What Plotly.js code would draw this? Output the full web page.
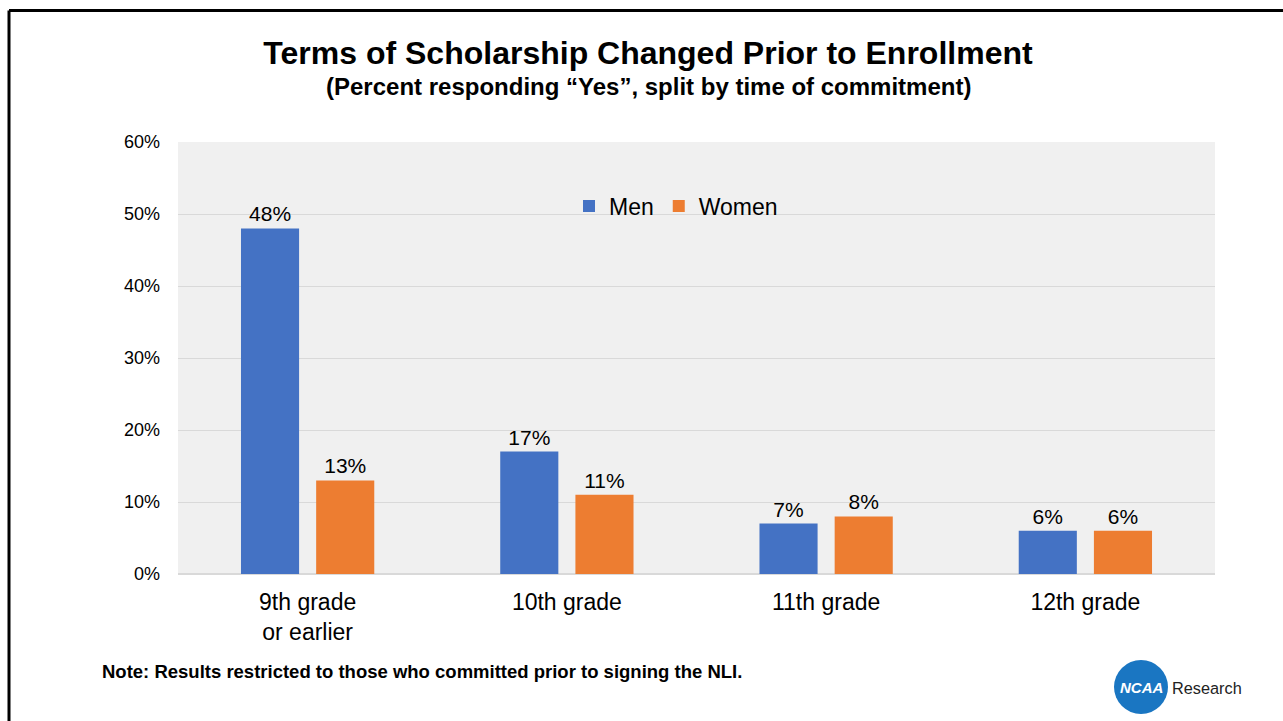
<!DOCTYPE html>
<html>
<head>
<meta charset="utf-8">
<script src="https://cdn.plot.ly/plotly-3.0.1.min.js"></script>
<style>
html,body{margin:0;padding:0;background:#fff;}
#chart{width:1283px;height:721px;}
</style>
</head>
<body>
<div id="chart"></div>
<script>
const categories = ["9th grade<br>or earlier", "10th grade", "11th grade", "12th grade"];
const menValues = [0.48, 0.17, 0.07, 0.06];
const womenValues = [0.13, 0.11, 0.08, 0.06];
const seriesNames = ["Men", "Women"];
const titleText = "<b>Terms of Scholarship Changed Prior to Enrollment</b>";
const subtitleText = "<b>(Percent responding “Yes”, split by time of commitment)</b>";
const noteText = "<b>Note: Results restricted to those who committed prior to signing the NLI.</b>";

const L = 178, R = 1215, T = 142, B = 574;
const W = R - L, H = B - T;
const px = x => (x - L) / W;
const py = y => (B - y) / H;

const font = "Arial, 'Liberation Sans', sans-serif";

const traces = [
  {type: "bar", name: seriesNames[0], x: categories, y: menValues,
   marker: {color: "#4472C4"}, texttemplate: "%{y:.0%}", textposition: "outside",
   textfont: {size: 21, color: "#000", family: font}, cliponaxis: false, hoverinfo: "skip"},
  {type: "bar", name: seriesNames[1], x: categories, y: womenValues,
   marker: {color: "#ED7D31"}, texttemplate: "%{y:.0%}", textposition: "outside",
   textfont: {size: 21, color: "#000", family: font}, cliponaxis: false, hoverinfo: "skip"}
];

const layout = {
  width: 1283, height: 721,
  margin: {l: L, r: 1283 - R, t: T, b: 721 - B, pad: 0},
  paper_bgcolor: "#ffffff",
  plot_bgcolor: "#f0f0f0",
  font: {family: font, color: "#000"},
  barmode: "group",
  bargap: 0.42,
  bargroupgap: 0.227,
  showlegend: true,
  legend: {orientation: "h", x: px(569), y: py(206), xanchor: "left", yanchor: "middle",
           font: {size: 23, family: font, color: "#000"}, bgcolor: "rgba(0,0,0,0)",
           itemwidth: 30, traceorder: "normal"},
  xaxis: {type: "category", showgrid: false, zeroline: false, showline: false,
          tickfont: {size: 23, family: font, color: "#000"}, ticks: "", ticklabelstandoff: 12},
  yaxis: {range: [0, 0.6], dtick: 0.1, tickformat: ".0%", showgrid: true, gridcolor: "#d9d9d9",
          gridwidth: 1, zeroline: true, zerolinecolor: "#d9d9d9", zerolinewidth: 2, showline: false,
          tickfont: {size: 18, family: font, color: "#000"}, ticks: "", ticklabelstandoff: 17},
  title: {text: titleText, font: {size: 32, family: font, color: "#000"},
          x: px(648), xref: "paper", xanchor: "center", y: 1 - 53 / 721, yanchor: "middle"},
  shapes: [
    {type: "line", xref: "paper", yref: "paper", x0: px(9), x1: px(9), y0: py(10.5), y1: py(740),
     line: {color: "#000", width: 3}},
    {type: "line", xref: "paper", yref: "paper", x0: px(9), x1: px(1290), y0: py(10.5), y1: py(10.5),
     line: {color: "#000", width: 3}},
    {type: "circle", xref: "paper", yref: "paper", x0: px(1114), x1: px(1168), y0: py(660), y1: py(714),
     fillcolor: "#1a76c2", line: {width: 0}}
  ],
  annotations: [
    {text: subtitleText, xref: "paper", yref: "paper", x: px(648), y: py(87), xanchor: "center",
     yanchor: "middle", showarrow: false, font: {size: 24, family: font, color: "#000"}},
    {text: noteText, xref: "paper", yref: "paper", x: px(100), y: py(671), xanchor: "left",
     yanchor: "middle", showarrow: false, font: {size: 18.5, family: font, color: "#000"}},
    {text: "<b><i>NCAA</i></b>", xref: "paper", yref: "paper", x: px(1141), y: py(687), xanchor: "center",
     yanchor: "middle", showarrow: false, font: {size: 15, family: font, color: "#fff"}},
    {text: "Research", xref: "paper", yref: "paper", x: px(1170), y: py(688), xanchor: "left",
     yanchor: "middle", showarrow: false, font: {size: 16.3, family: font, color: "#222"}}
  ]
};

Plotly.newPlot("chart", traces, layout, {displayModeBar: false, staticPlot: true});
</script>
</body>
</html>
